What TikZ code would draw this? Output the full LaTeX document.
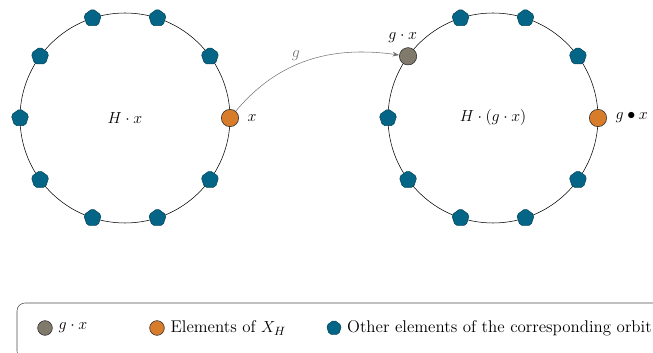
\documentclass[tikz,border=0pt]{standalone}
\usepackage{amsmath, amssymb}
\usetikzlibrary{shapes.geometric, arrows.meta, positioning, calc}

\definecolor{orbitblue}{RGB}{5,101,134}
\definecolor{fixorange}{RGB}{214,124,42}
\definecolor{imggray}{RGB}{128,122,108}

\begin{document}
\begin{tikzpicture}[
  x=0.75pt, y=0.75pt,
  every node/.style={font=\fontsize{11.5}{13}\selectfont},
  legendtxt/.style={font=\fontsize{12.7}{14}\selectfont},
  fixdot/.style={circle, draw=black!85, fill=fixorange, minimum size=13pt, inner sep=0pt},
  imgdot/.style={circle, draw=black!85, fill=imggray, minimum size=13pt, inner sep=0pt},
  orbitdot/.style={regular polygon, regular polygon sides=5, rounded corners=1.5pt, draw=orbitblue!70!black, fill=orbitblue, minimum size=14pt, inner sep=0pt},
  arrow/.style={-{Stealth[length=5pt, width=3.5pt]}, draw=black!55, thin}
]
\useasboundingbox (0,0) rectangle (653,353);
\clip (0,0) rectangle (653,353);

% Orbit of x
\coordinate (cL) at (125,235);
\draw[thin] (cL) circle (105);
\node at (cL) {$H\cdot x$};
\foreach \i in {1,...,9}
  \node[orbitdot] (L\i) at ([shift={(\i*36:105)}]cL) {};
\node[fixdot] (xL) at ([shift={(0:105)}]cL) {};
\node[right=3pt of xL] (xLabel) {$x$};

% Orbit of g.x
\coordinate (cR) at (493,235);
\draw[thin] (cR) circle (105);
\node at (cR) {$H\cdot(g\cdot x)$};
\foreach \i in {1,2,3,5,6,7,8,9}
  \node[orbitdot] (R\i) at ([shift={(\i*36:105)}]cR) {};
\node[imgdot] (gx) at ([shift={(144:105)}]cR) {};
\node[fixdot] (xR) at ([shift={(0:105)}]cR) {};
\node[above=0pt of gx, xshift=-4pt] (gxLabel) {$g\cdot x$};
\node[right=3pt of xR] (xRLabel) {$g\bullet x$};

% Action of g
\draw[arrow] (xL) to[out=50, in=172] node[pos=0.42, above, text=black!55] {$g$} (gx);

% Legend
\draw[thin, draw=black!70, rounded corners=6pt] (17,50) rectangle (680,-6);
\node[imgdot, minimum size=11pt] (lgGray) at (45,25) {};
\node[right=1pt of lgGray, legendtxt] (lgGrayTxt) {$g\cdot x$};
\node[fixdot, minimum size=11pt] (lgOrange) at (157,25) {};
\node[right=1pt of lgOrange, legendtxt] (lgOrangeTxt) {Elements of $X_H$};
\node[orbitdot, minimum size=12pt] (lgBlue) at (334,25) {};
\node[right=1pt of lgBlue, legendtxt] (lgBlueTxt) {Other elements of the corresponding orbit};
\end{tikzpicture}
\end{document}
